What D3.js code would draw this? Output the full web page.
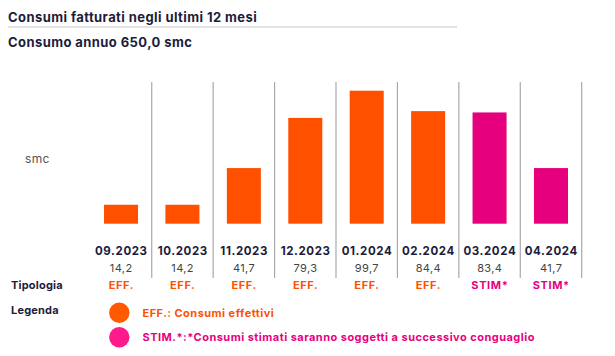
<!DOCTYPE html>
<html><head><meta charset="utf-8">
<script src="https://cdn.jsdelivr.net/npm/d3@7"></script>
<style>
html,body{margin:0;padding:0;background:#fff;}
svg{display:block;font-family:"Inter","Lato",sans-serif;}
</style></head>
<body>
<svg id="chart" width="615" height="356"></svg>
<script>
const months = ["09.2023","10.2023","11.2023","12.2023","01.2024","02.2024","03.2024","04.2024"];
const values = [14.2,14.2,41.7,79.3,99.7,84.4,83.4,41.7];
const valueLabels = ["14,2","14,2","41,7","79,3","99,7","84,4","83,4","41,7"];
const types = ["EFF.","EFF.","EFF.","EFF.","EFF.","EFF.","STIM*","STIM*"];
const legendItems = ["EFF.: Consumi effettivi","STIM.*:*Consumi stimati saranno soggetti a successivo conguaglio"];
const legendKeys = ["EFF.","STIM*"];

const ORANGE = "#ff5000", MAGENTA = "#e6007e", NAVY = "#1c1c3c";
const color = d3.scaleOrdinal().domain(["EFF.","STIM*"]).range([ORANGE, MAGENTA]);
const legendColor = d3.scaleOrdinal().domain(["EFF.","STIM*"]).range(["#ff5a00","#ff1a8c"]);

const svg = d3.select("#chart");

// Title
svg.append("text").attr("x",8).attr("y",22).attr("fill",NAVY).attr("letter-spacing",0.42)
  .attr("font-size",13).attr("font-weight",700).text("Consumi fatturati negli ultimi 12 mesi");
svg.append("line").attr("x1",8).attr("x2",457).attr("y1",27).attr("y2",27)
  .attr("stroke","#e3e3e6").attr("stroke-width",2);
svg.append("text").attr("x",8).attr("y",47).attr("fill",NAVY).attr("letter-spacing",0.42)
  .attr("font-size",13).attr("font-weight",700).text("Consumo annuo 650,0 smc");

// Scales
const x = d3.scaleBand().domain(months).range([90.3,581.7]).paddingInner(0.446).paddingOuter(0.223);
const y = d3.scaleLinear().domain([0,100]).range([223.7,90.3]);
const step = x.step();

// Separators
svg.append("g").selectAll("line").data(months).join("line")
  .attr("x1",d=>x(d) + x.bandwidth() + (step - x.bandwidth())/2)
  .attr("x2",d=>x(d) + x.bandwidth() + (step - x.bandwidth())/2)
  .attr("y1",82).attr("y2",278)
  .attr("stroke","#a9a9ad").attr("stroke-width",1.2);

// Bars
svg.append("g").selectAll("rect").data(months).join("rect")
  .attr("x",d=>x(d)).attr("width",x.bandwidth())
  .attr("y",(d,i)=>y(values[i])).attr("height",(d,i)=>y(0)-y(values[i]))
  .attr("fill",(d,i)=>color(types[i]));

// smc label
svg.append("text").attr("x",25).attr("y",163).attr("fill","#555").attr("font-size",12).attr("letter-spacing",0.3).text("smc");

const cx = d => x(d) + x.bandwidth()/2;
// Month labels
svg.append("g").selectAll("text").data(months).join("text")
  .attr("x",d=>cx(d)+0.3).attr("y",254.5).attr("text-anchor","middle").attr("letter-spacing",0.6)
  .attr("fill",NAVY).attr("font-size",11.5).attr("font-weight",700).text(d=>d);
// Values
svg.append("g").selectAll("text").data(months).join("text")
  .attr("x",d=>cx(d)+0.2).attr("y",271.5).attr("text-anchor","middle").attr("letter-spacing",0.4)
  .attr("fill","#444").attr("font-size",11).text((d,i)=>valueLabels[i]);
// Types
svg.append("g").selectAll("text").data(months).join("text")
  .attr("x",d=>cx(d)+0.3).attr("y",288.5).attr("text-anchor","middle").attr("letter-spacing",0.6)
  .attr("fill",(d,i)=>color(types[i])).attr("font-size",11).attr("font-weight",700).text((d,i)=>types[i]);

svg.append("text").attr("x",11).attr("y",288.5).attr("fill",NAVY).attr("letter-spacing",0.2)
  .attr("font-size",11).attr("font-weight",700).text("Tipologia");
svg.append("text").attr("x",11).attr("y",314).attr("fill",NAVY).attr("letter-spacing",0.2)
  .attr("font-size",11).attr("font-weight",700).text("Legenda");

// Legend
const lg = svg.append("g").selectAll("g").data(legendItems).join("g")
  .attr("transform",(d,i)=>`translate(0,${312.7 + i*24.6})`);
lg.append("circle").attr("cx",119.3).attr("cy",0).attr("r",10.2)
  .attr("fill",(d,i)=>legendColor(legendKeys[i]));
lg.append("text").attr("x",142.5).attr("y",4).attr("font-size",11).attr("font-weight",700).attr("letter-spacing",0.47)
  .attr("fill",(d,i)=>i===0?ORANGE:"#e8007f").text(d=>d);
</script>
</body></html>
